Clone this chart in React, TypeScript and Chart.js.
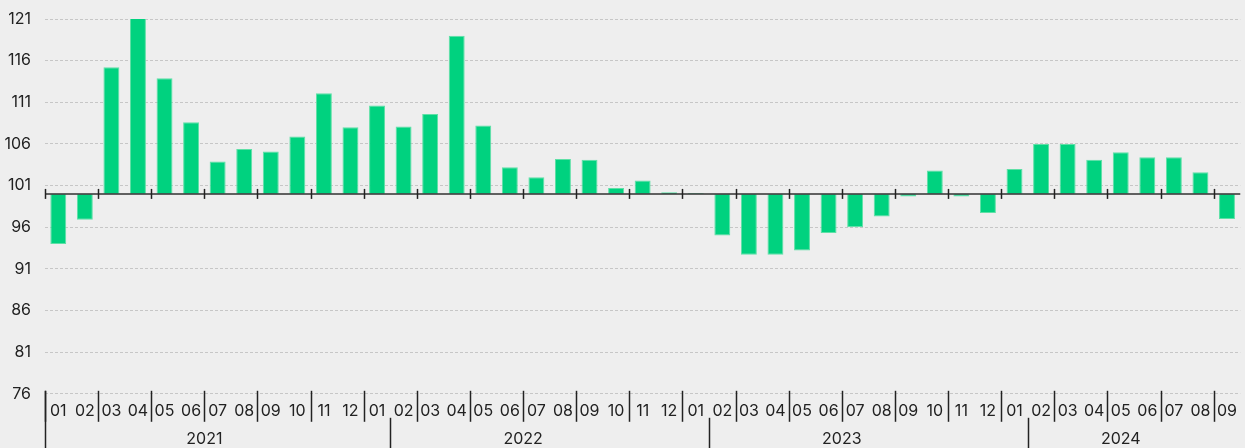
import React, { useEffect, useRef } from "react";
import { Chart, registerables } from "chart.js";

Chart.register(...registerables);

const monthLabels = [
  "01","02","03","04","05","06","07","08","09","10","11","12",
  "01","02","03","04","05","06","07","08","09","10","11","12",
  "01","02","03","04","05","06","07","08","09","10","11","12",
  "01","02","03","04","05","06","07","08","09",
];

const values = [
  94.0, 96.9, 115.2, 121.2, 113.9, 108.6, 103.9, 105.4, 105.1, 106.9, 112.1, 108.0,
  110.6, 108.1, 109.6, 119.0, 108.2, 103.2, 102.0, 104.2, 104.1, 100.7, 101.6, 100.2,
  100.1, 95.0, 92.7, 92.7, 93.2, 95.3, 96.0, 97.3, 99.7, 102.8, 99.7, 97.7,
  103.0, 106.0, 106.0, 104.1, 105.0, 104.4, 104.4, 102.6, 97.0,
];

const years = ["2021", "2022", "2023", "2024"];
const yearStartIndex = [0, 12, 24, 36];
const yearSeparatorIndex = [0, 13, 25, 37];

const yTicks = [76, 81, 86, 91, 96, 101, 106, 111, 116, 121];
const baseValue = 100;

const FONT = "Inter, 'Noto Sans', sans-serif";

const overlayPlugin = {
  id: "overlay",
  afterDatasetsDraw(chart: any) {
    const ctx = chart.ctx;
    const x = chart.scales.x;
    const y = chart.scales.y;
    const area = chart.chartArea;
    const half = (x.getPixelForValue(1) - x.getPixelForValue(0)) / 2;
    const yb = y.getPixelForValue(baseValue);
    ctx.save();
    ctx.strokeStyle = "rgba(70,70,70,0.85)";
    ctx.lineWidth = 2;
    ctx.beginPath();
    ctx.moveTo(area.left, yb);
    ctx.lineTo(area.right, yb);
    ctx.stroke();
    ctx.strokeStyle = "#222";
    ctx.lineWidth = 1.5;
    for (let i = 0; i < monthLabels.length; i += 2) {
      const px = Math.round(x.getPixelForValue(i) - half) + 0.5;
      ctx.beginPath();
      ctx.moveTo(px, yb - 5);
      ctx.lineTo(px, yb + 5);
      ctx.stroke();
    }
    ctx.restore();
  },
  afterDraw(chart: any) {
    const ctx = chart.ctx;
    const x = chart.scales.x;
    const area = chart.chartArea;
    const half = (x.getPixelForValue(1) - x.getPixelForValue(0)) / 2;
    const bottom = area.bottom;
    ctx.save();
    ctx.strokeStyle = "#222";
    ctx.lineWidth = 1.5;
    for (let i = 0; i < monthLabels.length; i += 2) {
      const px = Math.round(x.getPixelForValue(i) - half) + 0.5;
      ctx.beginPath();
      ctx.moveTo(px, bottom - 3);
      ctx.lineTo(px, bottom + 28);
      ctx.stroke();
    }
    yearSeparatorIndex.forEach((idx) => {
      const px = Math.round(x.getPixelForValue(idx) - half) + 0.5;
      ctx.beginPath();
      ctx.moveTo(px, idx === 0 ? bottom - 3 : bottom + 24);
      ctx.lineTo(px, chart.height);
      ctx.stroke();
    });
    ctx.fillStyle = "#222";
    ctx.font = "16px " + FONT;
    ctx.textAlign = "center";
    ctx.textBaseline = "middle";
    years.forEach((yr, k) => {
      const start = yearStartIndex[k];
      const end = k + 1 < yearStartIndex.length ? yearStartIndex[k + 1] : monthLabels.length;
      const left = x.getPixelForValue(start) - half;
      const right = x.getPixelForValue(end - 1) + half;
      ctx.fillText(yr, (left + right) / 2, bottom + 45);
    });
    ctx.restore();
  },
};

export default function App() {
  const ref = useRef<HTMLCanvasElement>(null);
  useEffect(() => {
    document.body.style.margin = "0";
    document.body.style.background = "#eeeeee";
    const chart = new Chart(ref.current as HTMLCanvasElement, {
      type: "bar",
      data: {
        labels: monthLabels,
        datasets: [
          {
            data: values,
            base: baseValue,
            backgroundColor: "#00d27f",
            borderColor: "#5ee0a6",
            borderWidth: 1,
            barPercentage: 0.6,
            categoryPercentage: 1,
          } as any,
        ],
      },
      options: {
        responsive: false,
        animation: false,
        plugins: { legend: { display: false }, tooltip: { enabled: false } },
        layout: { padding: { top: 19, left: 0, right: 0, bottom: 19 } },
        scales: {
          x: {
            grid: { display: false, drawTicks: false },
            border: { display: false },
            ticks: {
              autoSkip: false,
              maxRotation: 0,
              color: "#222",
              font: { family: FONT, size: 16 },
              padding: 8,
            },
          },
          y: {
            min: 76,
            max: 121,
            afterBuildTicks: (axis: any) => {
              axis.ticks = yTicks.map((v) => ({ value: v }));
            },
            afterFit: (axis: any) => {
              axis.width = 45;
              axis.paddingTop = 0;
            },
            grid: {
              color: "#c6c6c6",
              lineWidth: 1,
              drawTicks: false,
            },
            border: { display: false, dash: [3, 2] },
            ticks: {
              color: "#222",
              font: { family: FONT, size: 16 },
              padding: 14,
            },
          },
        },
      },
      plugins: [overlayPlugin],
    });
    return () => chart.destroy();
  }, []);
  return <canvas ref={ref} width={1245} height={448} style={{ display: "block" }} />;
}
